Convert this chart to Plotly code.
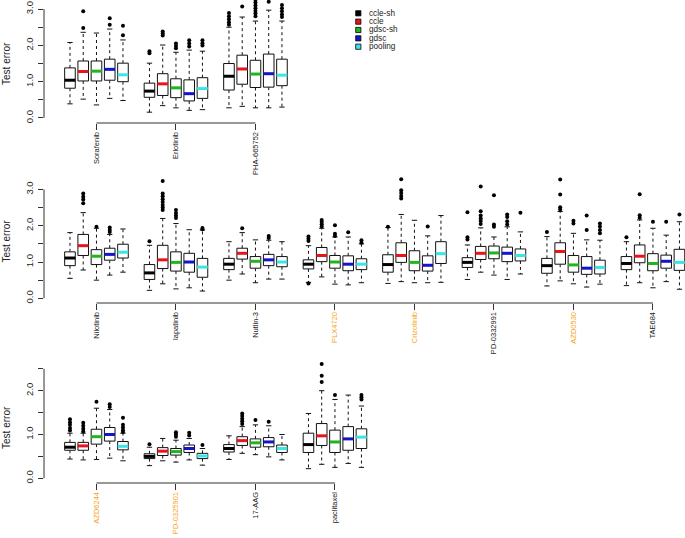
import plotly.graph_objects as go

# ---------------- data ----------------
methods = ["ccle-sh", "ccle", "gdsc-sh", "gdsc", "pooling"]
method_colors = ["#000000", "#E8141C", "#1FB51F", "#1414C8", "#3CE4E6"]

drugs_top = ["Sorafenib", "Erlotinib", "PHA-665752"]
drugs_mid = ["Nilotinib", "lapatinib", "Nutlin-3", "PLX4720", "Crizotinib",
             "PD-0332991", "AZD0530", "TAE684"]
drugs_bot = ["AZD6244", "PD-0325901", "17-AAG", "paclitaxel"]
highlighted = ["PLX4720", "Crizotinib", "AZD0530", "AZD6244", "PD-0325901"]

# per drug (row) and method (column): lower whisker, Q1, median, Q3, upper whisker
whisk_lo = {
    "Sorafenib": [0.39, 0.52, 0.36, 0.54, 0.48],
    "Erlotinib": [0.16, 0.34, 0.28, 0.21, 0.23],
    "PHA-665752": [0.28, 0.32, 0.28, 0.28, 0.30],
    "Nilotinib": [0.55, 0.78, 0.50, 0.64, 0.72],
    "lapatinib": [0.22, 0.40, 0.26, 0.29, 0.20],
    "Nutlin-3": [0.50, 0.67, 0.43, 0.53, 0.53],
    "PLX4720": [0.44, 0.59, 0.39, 0.37, 0.43],
    "Crizotinib": [0.41, 0.46, 0.43, 0.43, 0.44],
    "PD-0332991": [0.52, 0.72, 0.64, 0.52, 0.67],
    "AZD0530": [0.34, 0.48, 0.40, 0.31, 0.39],
    "TAE684": [0.35, 0.43, 0.29, 0.46, 0.25],
    "AZD6244": [0.44, 0.42, 0.43, 0.46, 0.40],
    "PD-0325901": [0.29, 0.40, 0.37, 0.42, 0.30],
    "17-AAG": [0.43, 0.57, 0.54, 0.49, 0.42],
    "paclitaxel": [0.22, 0.32, 0.25, 0.34, 0.25],
}
q1 = {
    "Sorafenib": [0.82, 1.02, 1.02, 1.04, 1.00],
    "Erlotinib": [0.57, 0.62, 0.56, 0.47, 0.54],
    "PHA-665752": [0.77, 0.93, 0.84, 0.85, 0.89],
    "Nilotinib": [0.90, 1.18, 0.93, 1.05, 1.11],
    "lapatinib": [0.52, 0.82, 0.75, 0.72, 0.58],
    "Nutlin-3": [0.79, 1.08, 0.83, 0.90, 0.87],
    "PLX4720": [0.81, 1.01, 0.83, 0.76, 0.79],
    "Crizotinib": [0.72, 0.99, 0.76, 0.75, 0.96],
    "PD-0332991": [0.85, 1.07, 1.09, 1.01, 1.03],
    "AZD0530": [0.69, 0.94, 0.72, 0.66, 0.67],
    "TAE684": [0.79, 0.98, 0.76, 0.83, 0.77],
    "AZD6244": [0.64, 0.64, 0.78, 0.85, 0.65],
    "PD-0325901": [0.45, 0.52, 0.53, 0.59, 0.45],
    "17-AAG": [0.60, 0.75, 0.71, 0.72, 0.59],
    "paclitaxel": [0.59, 0.75, 0.59, 0.64, 0.68],
}
median = {
    "Sorafenib": [1.04, 1.28, 1.29, 1.34, 1.19],
    "Erlotinib": [0.74, 0.94, 0.83, 0.67, 0.81],
    "PHA-665752": [1.15, 1.35, 1.21, 1.22, 1.18],
    "Nilotinib": [1.11, 1.45, 1.16, 1.21, 1.27],
    "lapatinib": [0.70, 1.06, 0.99, 1.00, 0.86],
    "Nutlin-3": [0.94, 1.24, 1.02, 1.06, 1.00],
    "PLX4720": [0.94, 1.18, 1.00, 0.94, 0.94],
    "Crizotinib": [0.93, 1.18, 0.99, 0.91, 1.23],
    "PD-0332991": [0.99, 1.24, 1.25, 1.24, 1.18],
    "AZD0530": [0.90, 1.29, 0.92, 0.83, 0.85],
    "TAE684": [0.96, 1.16, 0.96, 1.02, 0.99],
    "AZD6244": [0.71, 0.74, 0.95, 1.00, 0.73],
    "PD-0325901": [0.50, 0.62, 0.61, 0.68, 0.51],
    "17-AAG": [0.68, 0.86, 0.81, 0.83, 0.68],
    "paclitaxel": [0.77, 0.97, 0.83, 0.90, 0.94],
}
q3 = {
    "Sorafenib": [1.38, 1.57, 1.57, 1.62, 1.51],
    "Erlotinib": [0.96, 1.22, 1.08, 1.05, 1.11],
    "PHA-665752": [1.50, 1.73, 1.59, 1.76, 1.62],
    "Nilotinib": [1.28, 1.76, 1.34, 1.38, 1.49],
    "lapatinib": [0.93, 1.46, 1.28, 1.24, 1.10],
    "Nutlin-3": [1.10, 1.38, 1.15, 1.21, 1.15],
    "PLX4720": [1.06, 1.40, 1.18, 1.17, 1.09],
    "Crizotinib": [1.20, 1.53, 1.31, 1.17, 1.56],
    "PD-0332991": [1.12, 1.43, 1.44, 1.41, 1.36],
    "AZD0530": [1.10, 1.53, 1.18, 1.15, 1.05],
    "TAE684": [1.15, 1.47, 1.23, 1.19, 1.35],
    "AZD6244": [0.82, 0.82, 1.12, 1.16, 0.84],
    "PD-0325901": [0.56, 0.70, 0.68, 0.76, 0.57],
    "17-AAG": [0.77, 0.95, 0.90, 0.93, 0.76],
    "paclitaxel": [1.03, 1.25, 1.10, 1.18, 1.13],
}
whisk_hi = {
    "Sorafenib": [2.08, 2.36, 2.34, 2.45, 2.15],
    "Erlotinib": [1.51, 2.01, 1.81, 1.87, 1.84],
    "PHA-665752": [2.50, 2.78, 2.67, 2.97, 2.67],
    "Nilotinib": [1.81, 2.36, 1.93, 1.76, 1.91],
    "lapatinib": [1.46, 2.20, 2.06, 1.89, 1.88],
    "Nutlin-3": [1.56, 1.81, 1.61, 1.60, 1.56],
    "PLX4720": [1.45, 1.93, 1.69, 1.69, 1.50],
    "Crizotinib": [1.95, 2.31, 2.15, 1.72, 2.28],
    "PD-0332991": [1.47, 1.94, 1.69, 1.97, 1.83],
    "AZD0530": [1.70, 2.39, 1.79, 1.61, 1.60],
    "TAE684": [1.56, 2.16, 1.93, 1.74, 2.11],
    "AZD6244": [1.03, 1.03, 1.60, 1.57, 1.03],
    "PD-0325901": [0.71, 0.91, 0.87, 0.91, 0.68],
    "17-AAG": [0.97, 1.18, 1.22, 1.20, 1.00],
    "paclitaxel": [1.48, 2.00, 1.80, 1.90, 1.65],
}
outliers = {
    "Sorafenib": [[], [2.94, 2.48], [], [2.75, 2.57], [2.54, 2.28]],
    "Erlotinib": [[1.84, 1.78], [2.38, 2.33, 2.27], [2.05, 1.98, 1.92],
                  [2.14, 2.05, 1.97], [2.14, 2.06, 2.00]],
    "PHA-665752": [[2.89, 2.80, 2.72, 2.64, 2.57], [3.07],
                   [3.26, 3.18, 3.10, 3.02, 2.95, 2.88, 2.80], [3.20],
                   [3.11, 3.02, 2.94, 2.85, 2.78]],
    "Nilotinib": [[], [2.89, 2.80, 2.72, 2.62], [1.97], [1.95, 1.88, 1.83], []],
    "lapatinib": [[1.57], [3.23, 2.89, 2.81, 2.73, 2.65, 2.57, 2.50, 2.43],
                  [2.43, 2.35, 2.28, 2.21], [], [1.94, 1.90]],
    "Nutlin-3": [[], [1.93], [], [1.72, 1.66], []],
    "PLX4720": [[1.70, 1.64, 1.58, 0.41], [2.16, 2.10, 2.04, 1.98],
                [2.01, 1.78, 1.72], [1.82], [1.60, 1.53]],
    "Crizotinib": [[1.97], [3.28, 2.98, 2.90, 2.82, 2.75], [], [1.98], []],
    "PD-0332991": [[2.37, 1.68, 1.62], [3.08, 2.40, 2.28, 2.20, 2.13, 2.05],
                   [2.84, 2.03, 1.97], [2.31, 2.24, 2.12, 2.03], [2.36]],
    "AZD0530": [[1.83], [3.27, 2.86, 2.51, 2.45], [2.14, 2.06], [2.28, 1.88],
                [2.06, 1.98, 1.88, 1.79]],
    "TAE684": [[1.68], [2.87, 2.29, 2.22], [2.11], [2.11], [2.31]],
    "AZD6244": [[1.35, 1.28, 1.22, 1.15, 1.09], [1.27, 1.20, 1.13, 1.07], [1.75],
                [1.69, 1.63], [1.38, 1.22, 1.16, 1.10, 1.06]],
    "PD-0325901": [[0.78], [], [1.05, 1.00, 0.95], [1.04, 0.98], [0.76]],
    "17-AAG": [[], [1.48, 1.42, 1.36, 1.30, 1.24], [1.33], [1.29], []],
    "paclitaxel": [[], [2.61, 2.34, 2.20], [1.90], [], [1.90, 1.85, 1.80]],
}

y_tick_values_top = [0, 0.5, 1.0, 1.5, 2.0, 2.5, 3.0]
y_tick_values_bot = [0, 0.5, 1.0, 1.5, 2.0, 2.5]

# ---------------- styling ----------------
W, H = 685, 538
FONT = "Liberation Sans, Arial, Helvetica, sans-serif"
AX_COL = "#333333"
BOX_HALF = 0.4
CAP_HALF = 0.2
SLOT = 6  # 5 boxes + gap per drug
X_RANGE = [-0.96, 47.42]
X_DOMAIN = [44 / W, 1.0]

panels = [
    # drugs, x axis id, y axis id, y range, pixel top, pixel bottom, y ticks, title frac
    (drugs_top, "x", "y", [-0.138, 3.25], 0, 123, y_tick_values_top, 0.48),
    (drugs_mid, "x2", "y2", [-0.129, 3.397], 175, 303, y_tick_values_top, 0.48),
    (drugs_bot, "x3", "y3", [-0.107, 2.815], 355, 483, y_tick_values_bot, 0.43),
]

fig = go.Figure()
shapes = []
annotations = []

for drugs, xa, ya, yr, ptop, pbot, yticks, tfrac in panels:
    wx, wy, bx, by, cx, cy, ox, oy = [], [], [], [], [], [], [], []
    mx = [[] for _ in methods]
    my = [[] for _ in methods]
    for g, d in enumerate(drugs):
        for m in range(len(methods)):
            p = SLOT * g + m + 1
            lo, a, md, b, hi = whisk_lo[d][m], q1[d][m], median[d][m], q3[d][m], whisk_hi[d][m]
            wx += [p, p, None, p, p, None]
            wy += [b, hi, None, a, lo, None]
            bx += [p - BOX_HALF, p + BOX_HALF, p + BOX_HALF, p - BOX_HALF, p - BOX_HALF, None]
            by += [a, a, b, b, a, None]
            cx += [p - CAP_HALF, p + CAP_HALF, None, p - CAP_HALF, p + CAP_HALF, None]
            cy += [hi, hi, None, lo, lo, None]
            mx[m] += [p - BOX_HALF, p + BOX_HALF, None]
            my[m] += [md, md, None]
            for v in outliers[d][m]:
                ox.append(p)
                oy.append(v)
    common = dict(xaxis=xa, yaxis=ya, showlegend=False, hoverinfo="skip")
    fig.add_trace(go.Scatter(x=wx, y=wy, mode="lines",
                             line=dict(color="#111111", width=1, dash="3px,3px"), **common))
    fig.add_trace(go.Scatter(x=cx, y=cy, mode="lines",
                             line=dict(color="#111111", width=1), **common))
    fig.add_trace(go.Scatter(x=bx, y=by, mode="lines", fill="toself", fillcolor="white",
                             line=dict(color="#111111", width=1), **common))
    for m in range(len(methods)):
        fig.add_trace(go.Scatter(x=mx[m], y=my[m], mode="lines",
                                 line=dict(color=method_colors[m], width=3), **common))
    fig.add_trace(go.Scatter(x=ox, y=oy, mode="markers",
                             marker=dict(color="black", size=4, symbol="circle"), **common))

    centers = [SLOT * g + 3 for g in range(len(drugs))]
    ticktext = [f"<span style='color:#F5A623'>{d}</span>" if d in highlighted else d
                for d in drugs]
    xkey = "xaxis" if xa == "x" else "xaxis" + xa[1:]
    ykey = "yaxis" if ya == "y" else "yaxis" + ya[1:]
    dom = [1 - pbot / H, 1 - ptop / H]
    fig.update_layout({
        xkey: dict(domain=X_DOMAIN, range=X_RANGE, anchor=ya, tickvals=centers,
                   ticktext=ticktext, tickangle=-90, ticks="outside", ticklen=6,
                   tickwidth=1, tickcolor=AX_COL, showgrid=False, zeroline=False,
                   showline=False, ticklabelstandoff=-1,
                   tickfont=dict(size=7.5, color="#222222", family=FONT)),
        ykey: dict(domain=dom, range=yr, anchor=xa, tickvals=yticks,
                   ticktext=[f"{v:.1f}" if abs(v - round(v)) < 1e-9 else "" for v in yticks],
                   tickangle=-90, ticks="outside", ticklen=5, tickwidth=1,
                   tickcolor=AX_COL, showgrid=False, zeroline=False, showline=False,
                   ticklabelstandoff=1,
                   tickfont=dict(size=9.5, color="#222222", family=FONT)),
    })
    shapes.append(dict(type="line", xref=xa, yref=ya + " domain", x0=centers[0],
                       x1=centers[-1], y0=0, y1=0, line=dict(color=AX_COL, width=1)))
    shapes.append(dict(type="line", xref=xa + " domain", yref=ya, x0=0, x1=0,
                       y0=yticks[0], y1=yticks[-1], line=dict(color=AX_COL, width=1)))
    annotations.append(dict(text="Test error", xref="paper", yref=ya + " domain",
                            x=7 / W, y=tfrac, textangle=-90, showarrow=False,
                            xanchor="center", yanchor="middle",
                            font=dict(size=10, color="#222222", family=FONT)))

# legend (drawn manually to match the compact base-R legend)
LEG_X, LEG_Y0, LEG_DY, SQ = 358.3, 13.3, 8.35, 5.2
for i, (name, col) in enumerate(zip(methods, method_colors)):
    yc = LEG_Y0 + i * LEG_DY
    shapes.append(dict(type="rect", xref="paper", yref="paper",
                       x0=(LEG_X - SQ / 2) / W, x1=(LEG_X + SQ / 2) / W,
                       y0=1 - (yc + SQ / 2) / H, y1=1 - (yc - SQ / 2) / H,
                       fillcolor=col, line=dict(color="black", width=0.8)))
    annotations.append(dict(text=name, xref="paper", yref="paper",
                            x=367.5 / W, y=1 - yc / H, xanchor="left", yanchor="middle",
                            showarrow=False,
                            font=dict(size=8.2, color="#222222", family=FONT)))

fig.update_layout(
    width=W, height=H,
    margin=dict(l=0, r=0, t=0, b=0),
    paper_bgcolor="white", plot_bgcolor="white",
    shapes=shapes, annotations=annotations,
    font=dict(family=FONT),
)

fig.write_html("out.html", config={"displayModeBar": False},
               post_script="document.body.style.margin='0';document.body.style.overflow='hidden';")
